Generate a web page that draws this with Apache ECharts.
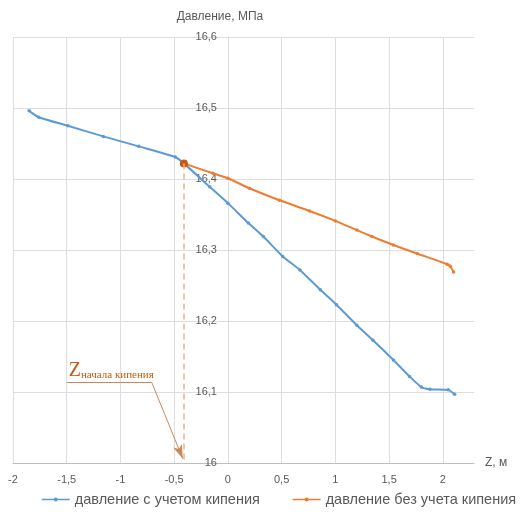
<!DOCTYPE html>
<html>
<head>
<meta charset="utf-8">
<script src="https://cdn.jsdelivr.net/npm/echarts@6/dist/echarts.min.js"></script>
<style>html,body{margin:0;padding:0;background:#fff;}#c{width:521px;height:515px;}</style>
</head>
<body>
<div id="c"></div>
<script>
var xTicks = [-2, -1.5, -1, -0.5, 0, 0.5, 1, 1.5, 2];
var yTicks = [16, 16.1, 16.2, 16.3, 16.4, 16.5, 16.6];

var blueZ = [-1.85, -1.76, -1.49, -1.16, -0.83, -0.49, -0.41, -0.17, 0, 0.19, 0.33, 0.51, 0.67, 0.86, 1.01, 1.2, 1.35, 1.54, 1.69, 1.80, 1.88, 2.05, 2.11];
var blueP = [16.496, 16.487, 16.475, 16.46, 16.446, 16.431, 16.422, 16.389, 16.366, 16.338, 16.319, 16.291, 16.272, 16.244, 16.223, 16.194, 16.173, 16.145, 16.122, 16.107, 16.104, 16.103, 16.097];

var orangeZ = [-0.41, -0.14, 0, 0.2, 0.48, 0.76, 1.0, 1.2, 1.34, 1.54, 1.76, 2.04, 2.07, 2.10];
var orangeP = [16.422, 16.408, 16.401, 16.387, 16.370, 16.355, 16.341, 16.328, 16.319, 16.307, 16.295, 16.280, 16.277, 16.269];

var boilZ = -0.41;
var boilP = 16.422;
var annotLine = [[-1.5, 16.114], [-0.71, 16.114], [-0.42, 16.006]];

var seriesNames = ['давление с учетом кипения', 'давление без учета кипения'];

function pairs(xs, ys) { return xs.map(function (x, i) { return [x, ys[i]]; }); }
function fmt(v) { return String(Math.round(v * 10) / 10).replace('.', ','); }

var orangeData = pairs(orangeZ, orangeP).map(function (p, i) {
  if (i === 0) return { value: p, symbolSize: 8, itemStyle: { color: '#c55a11' } };
  return p;
});

var chart = echarts.init(document.getElementById('c'));
chart.setOption({
  animation: false,
  textStyle: { fontFamily: 'Liberation Sans' },
  grid: { left: 13, right: 47, top: 37, bottom: 52, containLabel: false, outerBoundsMode: 'none' },
  xAxis: {
    type: 'value', min: xTicks[0], max: 2.29, interval: 0.5,
    name: 'Z, м', nameLocation: 'end', nameGap: 11,
    nameTextStyle: { color: '#595959', fontSize: 12 },
    axisLine: { onZero: false, lineStyle: { color: '#bfbfbf' } },
    axisTick: { show: false },
    axisLabel: {
      color: '#595959', fontSize: 11, margin: 11, showMaxLabel: false,
      formatter: function (v) { var r = Math.round(v * 10) / 10; return xTicks.indexOf(r) >= 0 ? String(r).replace('.', ',') : ''; }
    },
    splitLine: { show: true, showMaxLine: false, lineStyle: { color: '#dedede' } }
  },
  yAxis: {
    type: 'value', min: yTicks[0], max: yTicks[yTicks.length - 1], interval: 0.1,
    name: 'Давление, МПа', nameLocation: 'end', nameGap: 14,
    nameTextStyle: { color: '#595959', fontSize: 12, align: 'center', padding: [0, 0, 0, -16] },
    axisLine: { show: true, onZero: false, lineStyle: { color: '#dedede' } },
    axisTick: { show: false },
    axisLabel: { color: '#595959', fontSize: 11, margin: 11, formatter: fmt },
    splitLine: { show: true, lineStyle: { color: '#dedede' } }
  },
  legend: {
    top: 487, left: 36, width: 485, itemWidth: 28, itemHeight: 5, itemGap: 32,
    lineStyle: { width: 1.5 },
    textStyle: { color: '#595959', fontSize: 14.5, fontFamily: 'Liberation Sans' },
    data: seriesNames
  },
  series: [
    {
      name: seriesNames[0], type: 'line', smooth: 0.2,
      data: pairs(blueZ, blueP),
      symbol: 'circle', symbolSize: 3.5,
      lineStyle: { color: '#5b9bd5', width: 2 },
      itemStyle: { color: '#5b9bd5' },
      z: 3
    },
    {
      name: seriesNames[1], type: 'line', smooth: 0.2,
      data: orangeData,
      symbol: 'circle', symbolSize: 3.5,
      lineStyle: { color: '#ed7d31', width: 2 },
      itemStyle: { color: '#ed7d31' },
      z: 4,
      markLine: {
        silent: true, animation: false,
        label: { show: false },
        data: [
          [{ coord: [boilZ, boilP], symbol: 'none' }, { coord: [boilZ, yTicks[0]], symbol: 'none',
            lineStyle: { color: '#f4b183', type: [6, 4], width: 1.5 } }],
          [{ coord: annotLine[0], symbol: 'none' }, { coord: annotLine[1], symbol: 'none',
            lineStyle: { color: '#c98a5a', type: 'solid', width: 1 } }],
          [{ coord: annotLine[1], symbol: 'none' }, { coord: annotLine[2], symbol: 'arrow', symbolSize: [7, 14],
            lineStyle: { color: '#c98a5a', type: 'solid', width: 1 } }]
        ]
      }
    }
  ]
});

var pxZero = chart.convertToPixel({ xAxisIndex: 0 }, 0);
var pxLeft = chart.convertToPixel({ xAxisIndex: 0 }, xTicks[0]);
var p0 = chart.convertToPixel({ gridIndex: 0 }, annotLine[0]);
chart.setOption({
  yAxis: { offset: -(pxZero - pxLeft) },
  graphic: [{
    type: 'text', x: p0[0] + 2, y: p0[1] - 1,
    style: {
      text: '{z|Z}{s|начала кипения}',
      textVerticalAlign: 'bottom', verticalAlign: 'bottom',
      fill: '#c55a11',
      rich: {
        z: { fontFamily: 'Liberation Serif', fontSize: 20, fill: '#c55a11', verticalAlign: 'bottom' },
        s: { fontFamily: 'Liberation Serif', fontSize: 11, fill: '#c55a11', verticalAlign: 'bottom' }
      }
    }
  }]
});
</script>
</body>
</html>
